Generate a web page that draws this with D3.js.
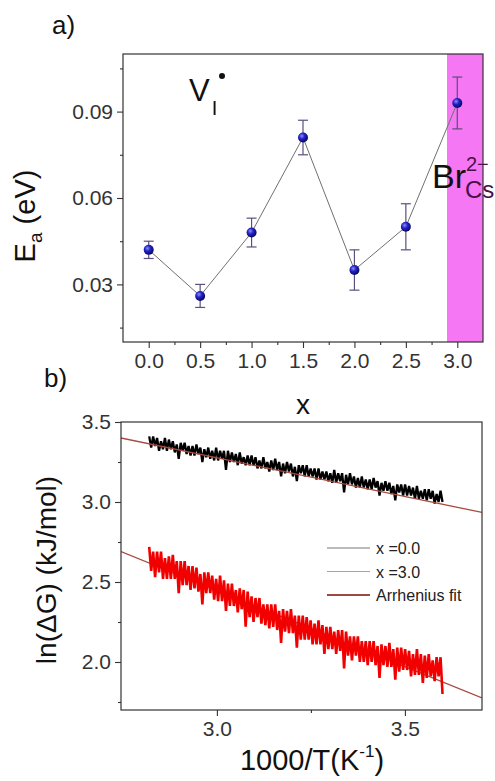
<!DOCTYPE html>
<html>
<head>
<meta charset="utf-8">
<style>
    body { margin: 0; background: #fff; }
    svg { display: block; font-family: Arial, "Liberation Sans", sans-serif; }
    .axis path, .axis line { stroke: #333; stroke-width: 1.1px; }
    .axis text { fill: #333; font-size: 21px; font-family: Arial, "Liberation Sans", sans-serif; }
</style>
<script src="https://d3js.org/d3.v7.min.js"></script>
</head>
<body>
<script>
// ---- panel a data ----
const xComp = [0.0, 0.5, 1.0, 1.5, 2.0, 2.5, 3.0];
const eaVal = [0.042, 0.026, 0.048, 0.081, 0.035, 0.050, 0.093];
const eaLow = [0.039, 0.022, 0.043, 0.075, 0.028, 0.042, 0.084];
const eaHigh = [0.045, 0.030, 0.053, 0.087, 0.042, 0.058, 0.102];
const bandRange = [2.9, 3.25];

// ---- panel b data (traces sampled evenly from traceStart to traceEnd) ----
const traceStart = 2.82, traceEnd = 3.60;
const trace00 = [
    3.41, 3.34, 3.41, 3.35, 3.40, 3.32, 3.38, 3.33, 3.40, 3.32,
    3.39, 3.33, 3.38, 3.31, 3.36, 3.27, 3.37, 3.32, 3.37, 3.30,
    3.35, 3.29, 3.35, 3.29, 3.36, 3.30, 3.34, 3.25, 3.33, 3.28,
    3.34, 3.27, 3.32, 3.26, 3.34, 3.26, 3.32, 3.27, 3.32, 3.20,
    3.32, 3.25, 3.31, 3.25, 3.30, 3.23, 3.31, 3.24, 3.28, 3.23,
    3.29, 3.23, 3.29, 3.23, 3.28, 3.21, 3.26, 3.21, 3.28, 3.21,
    3.25, 3.19, 3.26, 3.20, 3.27, 3.20, 3.25, 3.16, 3.24, 3.18,
    3.25, 3.19, 3.24, 3.16, 3.22, 3.13, 3.23, 3.18, 3.23, 3.16,
    3.23, 3.16, 3.21, 3.16, 3.21, 3.14, 3.21, 3.14, 3.19, 3.14,
    3.19, 3.13, 3.18, 3.12, 3.20, 3.12, 3.18, 3.13, 3.18, 3.06,
    3.17, 3.11, 3.18, 3.11, 3.16, 3.09, 3.15, 3.09, 3.16, 3.09,
    3.14, 3.08, 3.14, 3.08, 3.15, 3.09, 3.13, 3.04, 3.12, 3.07,
    3.13, 3.07, 3.12, 3.05, 3.10, 3.01, 3.11, 3.06, 3.11, 3.04,
    3.11, 3.04, 3.10, 3.04, 3.09, 3.02, 3.10, 3.02, 3.07, 3.02,
    3.08, 3.01, 3.08, 3.02, 3.07, 2.99, 3.05, 3.00, 3.07, 3.00];
const trace30 = [
    2.72, 2.57, 2.69, 2.53, 2.69, 2.56, 2.69, 2.52, 2.65, 2.52,
    2.66, 2.52, 2.67, 2.52, 2.63, 2.43, 2.63, 2.48, 2.63, 2.48,
    2.60, 2.45, 2.60, 2.46, 2.59, 2.44, 2.55, 2.36, 2.56, 2.43,
    2.56, 2.43, 2.54, 2.39, 2.52, 2.38, 2.54, 2.38, 2.51, 2.32,
    2.49, 2.35, 2.49, 2.35, 2.45, 2.31, 2.46, 2.33, 2.45, 2.22,
    2.44, 2.28, 2.41, 2.25, 2.40, 2.28, 2.40, 2.24, 2.36, 2.23,
    2.36, 2.21, 2.36, 2.22, 2.36, 2.20, 2.32, 2.12, 2.33, 2.19,
    2.32, 2.18, 2.33, 2.18, 2.29, 2.09, 2.29, 2.14, 2.29, 2.14,
    2.28, 2.14, 2.26, 2.11, 2.24, 2.11, 2.26, 2.11, 2.23, 2.05,
    2.22, 2.08, 2.22, 2.08, 2.19, 2.05, 2.20, 2.07, 2.20, 1.96,
    2.19, 2.04, 2.16, 2.01, 2.16, 2.04, 2.16, 2.00, 2.13, 2.00,
    2.13, 1.98, 2.13, 2.00, 2.13, 1.98, 2.10, 1.90, 2.11, 1.98,
    2.10, 1.97, 2.12, 1.97, 2.08, 1.89, 2.09, 1.94, 2.09, 1.95,
    2.08, 1.95, 2.07, 1.91, 2.05, 1.92, 2.08, 1.92, 2.05, 1.87,
    2.04, 1.90, 2.05, 1.91, 2.01, 1.88, 2.03, 1.91, 2.03, 1.80];
const fitX = [2.745, 3.705];
const fit00 = [3.40, 2.935];
const fit30 = [2.69, 1.775];
const legendLabels = ["x =0.0", "x =3.0", "Arrhenius fit"];

const W = 495, H = 781;
const svg = d3.select("body").append("svg").attr("width", W).attr("height", H);
svg.append("rect").attr("width", W).attr("height", H).attr("fill", "#fff");

const defs = svg.append("defs");
const grad = defs.append("radialGradient").attr("id", "ball")
    .attr("cx", "38%").attr("cy", "35%").attr("r", "65%");
grad.append("stop").attr("offset", "0%").attr("stop-color", "#8c8cff");
grad.append("stop").attr("offset", "45%").attr("stop-color", "#2222c8");
grad.append("stop").attr("offset", "100%").attr("stop-color", "#08085e");

// ================= panel a =================
const A = {left: 123, right: 483, top: 54, bottom: 342};
const xa = d3.scaleLinear().domain([-0.25, 3.25]).range([A.left, A.right]);
const ya = d3.scaleLinear().domain([0.01, 0.11]).range([A.bottom, A.top]);

svg.append("rect")
    .attr("x", xa(bandRange[0])).attr("y", A.top)
    .attr("width", xa(bandRange[1]) - xa(bandRange[0]))
    .attr("height", A.bottom - A.top)
    .attr("fill", "#f577f3");

svg.append("rect").attr("x", A.left).attr("y", A.top)
    .attr("width", A.right - A.left).attr("height", A.bottom - A.top)
    .attr("fill", "none").attr("stroke", "#333").attr("stroke-width", 1.2);

svg.append("g").attr("class", "axis").attr("transform", `translate(${A.left},0)`)
    .call(d3.axisLeft(ya).tickValues([0.03, 0.06, 0.09]).tickSize(6).tickPadding(4).tickFormat(d3.format(".2f")));
svg.append("g").attr("class", "axis").attr("transform", `translate(${A.left},0)`)
    .call(d3.axisLeft(ya).tickValues([0.015, 0.045, 0.075, 0.105]).tickSize(3).tickFormat(""));
svg.append("g").attr("class", "axis").attr("transform", `translate(0,${A.bottom})`)
    .call(d3.axisBottom(xa).tickValues(xComp).tickSize(6).tickPadding(5).tickFormat(d3.format(".1f")));
svg.append("g").attr("class", "axis").attr("transform", `translate(0,${A.bottom})`)
    .call(d3.axisBottom(xa).tickValues([0.25, 0.75, 1.25, 1.75, 2.25, 2.75]).tickSize(3).tickFormat(""));
svg.selectAll(".axis .domain").remove();

// connecting line
svg.append("path")
    .datum(xComp.map((x, i) => [x, eaVal[i]]))
    .attr("fill", "none").attr("stroke", "#707070").attr("stroke-width", 1)
    .attr("d", d3.line().x(d => xa(d[0])).y(d => ya(d[1])));

// error bars
const eb = svg.append("g").attr("stroke", "#5c4f7c").attr("stroke-width", 1.2);
xComp.forEach((x, i) => {
    eb.append("line").attr("x1", xa(x)).attr("x2", xa(x)).attr("y1", ya(eaLow[i])).attr("y2", ya(eaHigh[i]));
    [eaLow[i], eaHigh[i]].forEach(v => {
        eb.append("line").attr("x1", xa(x) - 5).attr("x2", xa(x) + 5).attr("y1", ya(v)).attr("y2", ya(v));
    });
});

svg.append("g").selectAll("circle").data(xComp).join("circle")
    .attr("cx", d => xa(d)).attr("cy", (d, i) => ya(eaVal[i])).attr("r", 5)
    .attr("fill", "url(#ball)");

// labels panel a
svg.append("text").attr("x", 52).attr("y", 34).attr("font-size", 26).attr("fill", "#111").text("a)");

const yLabA = svg.append("text").attr("transform", "translate(35,216) rotate(-90)")
    .attr("text-anchor", "middle").attr("font-size", 29).attr("fill", "#111");
yLabA.append("tspan").text("E");
yLabA.append("tspan").attr("font-size", 19).attr("dy", 7).text("a");
yLabA.append("tspan").attr("dy", -7).text(" (eV)");

const vLab = svg.append("text").attr("x", 189).attr("y", 101).attr("font-size", 31).attr("fill", "#111");
vLab.append("tspan").text("V");
vLab.append("tspan").attr("font-size", 20).attr("dy", 14).attr("dx", 2).text("I");
svg.append("circle").attr("cx", 222).attr("cy", 76).attr("r", 3).attr("fill", "#111");

const brLab = svg.append("text").attr("x", 432).attr("y", 188).attr("font-size", 34).attr("fill", "#111");
brLab.append("tspan").text("Br");
brLab.append("tspan").attr("font-size", 20).attr("dy", -17).attr("fill", "#4a1048").text("2−");
brLab.append("tspan").attr("font-size", 24).attr("x", 465).attr("dy", 27).attr("fill", "#4a1048").text("Cs");

svg.append("text").attr("x", 303).attr("y", 414).attr("text-anchor", "middle")
    .attr("font-size", 28).attr("fill", "#111").text("x");

// ================= panel b =================
const B = {left: 121, right: 482, top: 422, bottom: 710};
const xb = d3.scaleLinear().domain([2.745, 3.705]).range([B.left, B.right]);
const yb = d3.scaleLinear().domain([1.7, 3.5]).range([B.bottom, B.top]);

svg.append("text").attr("x", 44).attr("y", 387).attr("font-size", 26).attr("fill", "#111").text("b)");

svg.append("g").attr("class", "axis").attr("transform", `translate(${B.left},0)`)
    .call(d3.axisLeft(yb).tickValues([2.0, 2.5, 3.0, 3.5]).tickSize(6).tickPadding(4).tickFormat(d3.format(".1f")));
svg.append("g").attr("class", "axis").attr("transform", `translate(${B.left},0)`)
    .call(d3.axisLeft(yb).tickValues([1.75, 2.25, 2.75, 3.25]).tickSize(3).tickFormat(""));
svg.append("g").attr("class", "axis").attr("transform", `translate(0,${B.bottom})`)
    .call(d3.axisBottom(xb).tickValues([3.0, 3.5]).tickSize(6).tickPadding(5).tickFormat(d3.format(".1f")));
svg.append("g").attr("class", "axis").attr("transform", `translate(0,${B.bottom})`)
    .call(d3.axisBottom(xb).tickValues([3.25]).tickSize(3).tickFormat(""));
svg.selectAll(".axis .domain").remove();

const clip = defs.append("clipPath").attr("id", "clipb");
clip.append("rect").attr("x", B.left).attr("y", B.top).attr("width", B.right - B.left).attr("height", B.bottom - B.top);

const plotB = svg.append("g").attr("clip-path", "url(#clipb)");
const line = d3.line().x(d => xb(d[0])).y(d => yb(d[1]));
const asPoints = arr => {
    const step = (traceEnd - traceStart) / (arr.length - 1);
    return arr.map((v, i) => [traceStart + i * step, v]);
};
const drawFit = f => plotB.append("path").datum(fitX.map((x, i) => [x, f[i]]))
    .attr("fill", "none").attr("stroke", "#a84a3e").attr("stroke-width", 1.3).attr("d", line);

// red trace hides its fit, the black one lets it show through
drawFit(fit30);
plotB.append("path").datum(asPoints(trace00))
    .attr("fill", "none").attr("stroke", "#000").attr("stroke-width", 2.3)
    .attr("stroke-linejoin", "bevel").attr("d", line);
plotB.append("path").datum(asPoints(trace30))
    .attr("fill", "none").attr("stroke", "#f20000").attr("stroke-width", 2.6)
    .attr("stroke-linejoin", "bevel").attr("d", line);
drawFit(fit00);

svg.append("rect").attr("x", B.left).attr("y", B.top)
    .attr("width", B.right - B.left).attr("height", B.bottom - B.top)
    .attr("fill", "none").attr("stroke", "#333").attr("stroke-width", 1.2);

// legend
const legColors = ["#777", "#b59c9c", "#9a4a42"];
const legWidths = [1, 1, 2];
const leg = svg.append("g").attr("transform", "translate(327,548)");
legendLabels.forEach((t, i) => {
    leg.append("line").attr("x1", 0).attr("x2", 43).attr("y1", i * 23.5).attr("y2", i * 23.5)
        .attr("stroke", legColors[i]).attr("stroke-width", legWidths[i]);
    leg.append("text").attr("x", 49).attr("y", i * 23.5 + 6).attr("font-size", 16)
        .attr("fill", "#222").text(t);
});

svg.append("text").attr("transform", "translate(56,570) rotate(-90)")
    .attr("text-anchor", "middle").attr("font-size", 28).attr("fill", "#111")
    .text("ln(ΔG) (kJ/mol)");

const xLabB = svg.append("text").attr("x", 312).attr("y", 770).attr("text-anchor", "middle")
    .attr("font-size", 29).attr("fill", "#111");
xLabB.append("tspan").text("1000/T(K");
xLabB.append("tspan").attr("font-size", 17).attr("dy", -13).text("-1");
xLabB.append("tspan").attr("dy", 13).text(")");
</script>
</body>
</html>
